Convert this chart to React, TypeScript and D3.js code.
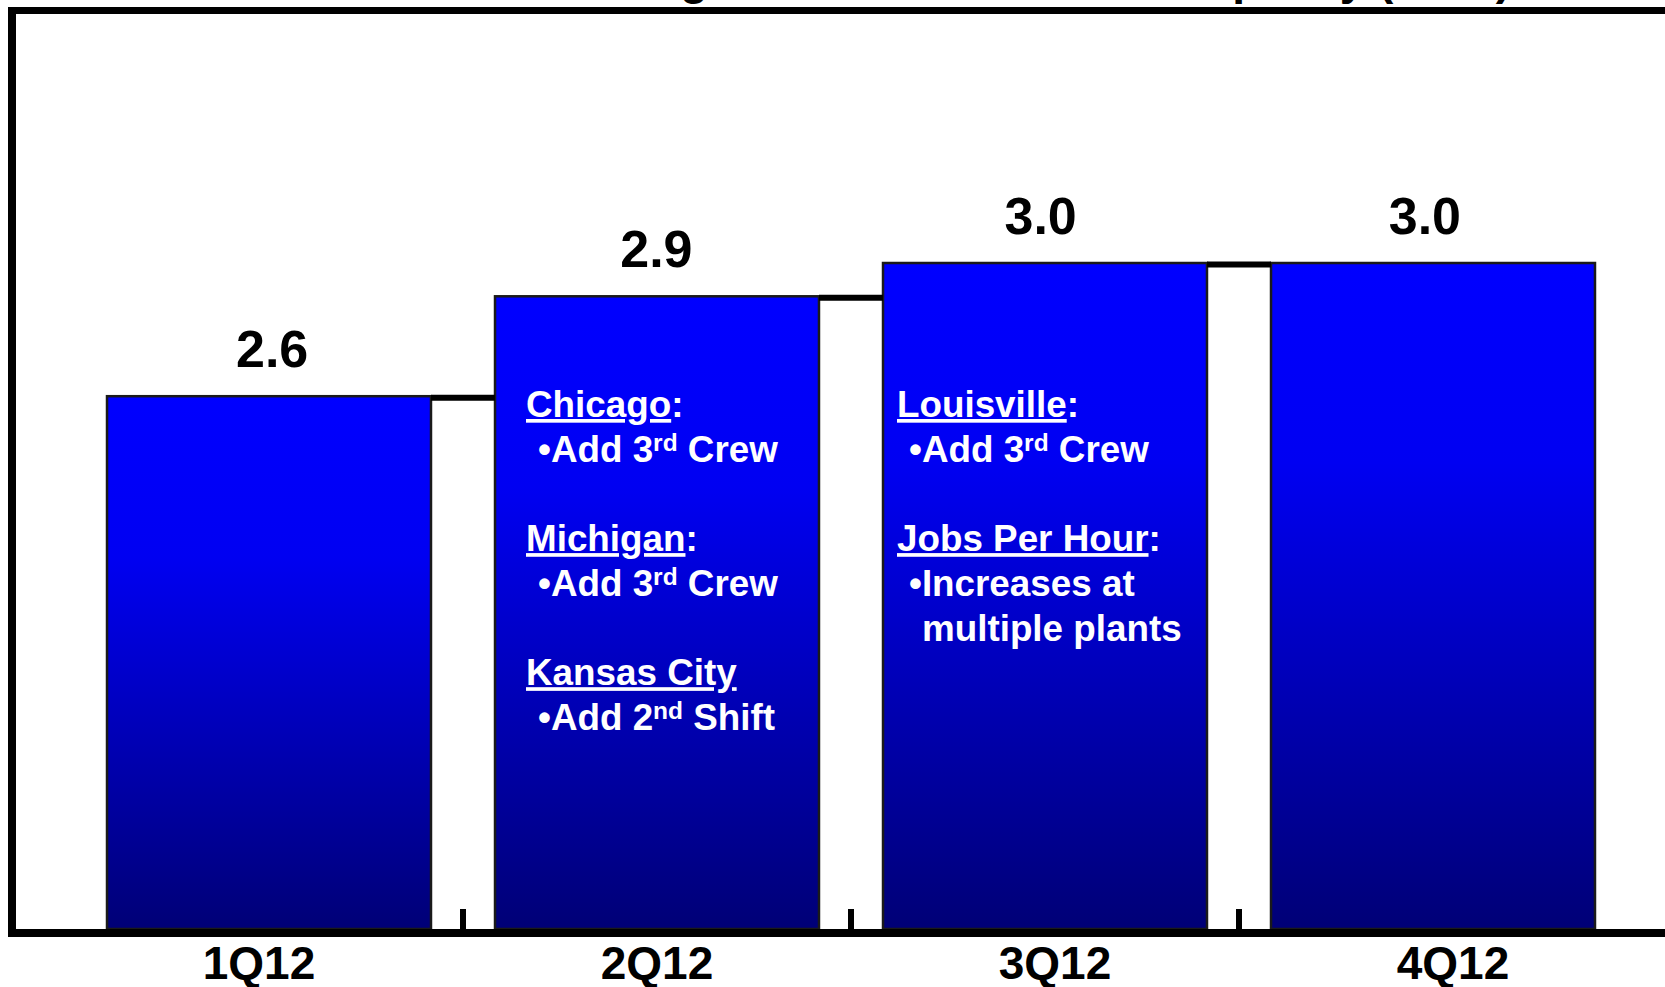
import React from "react";
import * as d3 from "d3";

// Quarterly capacity (000s)
const categories = ["1Q12", "2Q12", "3Q12", "4Q12"];
const capacity = [2.6, 2.9, 3.0, 3.0];
const valueLabels = ["2.6", "2.9", "3.0", "3.0"];

const titleText = "Tracking Increase in Installed Capacity (000s)";

// Notes placed inside bars: row = line index, kind = heading / bullet / continuation
type NoteLine = { row: number; kind: "head" | "bullet" | "cont"; text: string; sup?: string; rest?: string };
const notes2Q12: NoteLine[] = [
  { row: 0, kind: "head", text: "Chicago" },
  { row: 1, kind: "bullet", text: "Add 3", sup: "rd", rest: " Crew" },
  { row: 3, kind: "head", text: "Michigan" },
  { row: 4, kind: "bullet", text: "Add 3", sup: "rd", rest: " Crew" },
  { row: 6, kind: "head", text: "Kansas City" },
  { row: 7, kind: "bullet", text: "Add 2", sup: "nd", rest: " Shift" },
];
const notes3Q12: NoteLine[] = [
  { row: 0, kind: "head", text: "Louisville" },
  { row: 1, kind: "bullet", text: "Add 3", sup: "rd", rest: " Crew" },
  { row: 3, kind: "head", text: "Jobs Per Hour" },
  { row: 4, kind: "bullet", text: "Increases at" },
  { row: 5, kind: "cont", text: "multiple plants" },
];

const W = 1665;
const H = 987;
const FONT = "'Liberation Sans', Arial, Helvetica, sans-serif";

export default function App() {
  const x = d3
    .scaleBand<string>()
    .domain(categories)
    .range([75, 1627])
    .paddingInner(0.165)
    .paddingOuter(0.0825);
  const labelX = d3.scaleBand<string>().domain(categories).range([60, 1652]);
  const valueX = d3.scaleBand<string>().domain(categories).range([80, 1617]);
  const y = d3.scaleLinear().domain([1, 3]).range([929, 263]);
  const base = y(1);
  const bw = x.bandwidth();
  const step = x.step();

  const boundaries = categories.slice(1).map((c) => (x(c) as number) - (step * x.paddingInner()) / 2);

  const noteBlocks = [
    { cat: "2Q12", inset: 31, lines: notes2Q12 },
    { cat: "3Q12", inset: 14, lines: notes3Q12 },
  ];
  const firstBaseline = 417;
  const lineH = 44.7;

  return (
    <svg
      width={W}
      height={H}
      style={{ position: "absolute", left: 0, top: 0, background: "#fff" }}
      fontFamily={FONT}
    >
      <defs>
        <linearGradient id="barFill" x1="0" y1="0" x2="0" y2="1">
          <stop offset="0" stopColor="#0000FF" />
          <stop offset="0.3" stopColor="#0000F2" />
          <stop offset="1" stopColor="#000076" />
        </linearGradient>
      </defs>

      {/* title, mostly above the visible area */}
      <text x={519} y={-6} fontSize={46} fontWeight="bold" fill="#000">
        {titleText}
      </text>

      {/* bars */}
      {categories.map((c, i) => (
        <rect
          key={c}
          x={x(c)}
          y={y(capacity[i])}
          width={bw}
          height={base - y(capacity[i])}
          fill="url(#barFill)"
          stroke="#1a1a1a"
          strokeWidth={2.5}
        />
      ))}

      {/* series connector lines */}
      {categories.slice(0, -1).map((c, i) => (
        <line
          key={"con" + c}
          x1={(x(c) as number) + bw}
          x2={x(categories[i + 1]) as number}
          y1={y(capacity[i]) + 1.5}
          y2={y(capacity[i]) + 1.5}
          stroke="#000"
          strokeWidth={6}
        />
      ))}

      {/* value labels */}
      {categories.map((c, i) => (
        <text
          key={"v" + c}
          x={(valueX(c) as number) + valueX.bandwidth() / 2}
          y={y(capacity[i]) - 29}
          textAnchor="middle"
          fontSize={52}
          fontWeight="bold"
          fill="#000"
        >
          {valueLabels[i]}
        </text>
      ))}

      {/* notes inside bars */}
      {noteBlocks.map((b) => {
        const x0 = (x(b.cat) as number) + b.inset;
        return (
          <g key={"n" + b.cat} fill="#fff" fontSize={36.8} fontWeight="bold">
            {b.lines.map((l, j) => {
              const ty = firstBaseline + l.row * lineH;
              if (l.kind === "head") {
                return (
                  <text key={j} x={x0} y={ty}>
                    <tspan textDecoration="underline">{l.text}</tspan>
                    {l.text === "Kansas City" ? null : <tspan>:</tspan>}
                  </text>
                );
              }
              if (l.kind === "cont") {
                return (
                  <text key={j} x={x0 + 25} y={ty}>
                    {l.text}
                  </text>
                );
              }
              return (
                <text key={j} x={x0 + 12} y={ty}>
                  <tspan>{"\u2022" + l.text}</tspan>
                  {l.sup ? (
                    <>
                      <tspan fontSize={24.5} dy={-11}>
                        {l.sup}
                      </tspan>
                      <tspan dy={11}>{l.rest}</tspan>
                    </>
                  ) : null}
                </text>
              );
            })}
          </g>
        );
      })}

      {/* frame and category axis */}
      <rect x={8} y={7} width={W - 8} height={7} fill="#000" />
      <rect x={8} y={7} width={8} height={930} fill="#000" />
      <rect x={8} y={929} width={W - 8} height={8} fill="#000" />
      {boundaries.map((bx, i) => (
        <rect key={"t" + i} x={bx - 3} y={909} width={6} height={22} fill="#000" />
      ))}

      {/* category labels */}
      {categories.map((c) => (
        <text
          key={"c" + c}
          x={(labelX(c) as number) + labelX.bandwidth() / 2}
          y={979}
          textAnchor="middle"
          fontSize={46}
          fontWeight="bold"
          fill="#000"
        >
          {c}
        </text>
      ))}
    </svg>
  );
}
